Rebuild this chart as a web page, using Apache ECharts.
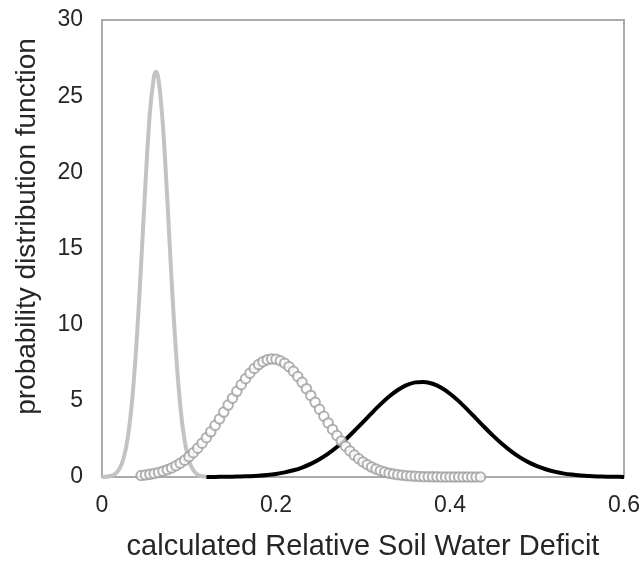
<!DOCTYPE html>
<html>
<head>
<meta charset="utf-8">
<script src="https://cdn.jsdelivr.net/npm/echarts@6/dist/echarts.min.js"></script>
<style>
  html, body { margin: 0; padding: 0; background: #fff; }
  #chart { width: 640px; height: 562px; }
</style>
</head>
<body>
<div id="chart"></div>
<script>
// Narrow distribution (light grey line)
var narrowX = [0.000, 0.005, 0.010, 0.015, 0.020, 0.025, 0.030, 0.035, 0.040, 0.045, 0.050, 0.055, 0.060, 0.062, 0.065, 0.070, 0.075, 0.080, 0.085, 0.090, 0.095, 0.100, 0.105, 0.110, 0.115, 0.120];
var narrowY = [0.005, 0.019, 0.065, 0.196, 0.53, 1.27, 2.73, 5.26, 9.07, 14.0, 19.3, 23.9, 26.4, 26.6, 26.1, 23.1, 18.3, 12.9, 8.21, 4.66, 2.37, 1.07, 0.44, 0.16, 0.05, 0.015];

// Middle distribution (grey open circles)
var middleX = [0.045, 0.050, 0.055, 0.060, 0.065, 0.070, 0.075, 0.080, 0.085, 0.090,
  0.095, 0.100, 0.105, 0.110, 0.115, 0.120, 0.125, 0.130, 0.135, 0.140,
  0.145, 0.150, 0.155, 0.160, 0.165, 0.170, 0.175, 0.180, 0.185, 0.190,
  0.195, 0.200, 0.205, 0.210, 0.215, 0.220, 0.225, 0.230, 0.235, 0.240,
  0.245, 0.250, 0.255, 0.260, 0.265, 0.270, 0.275, 0.280, 0.285, 0.290,
  0.295, 0.300, 0.305, 0.310, 0.315, 0.320, 0.325, 0.330, 0.335, 0.340,
  0.345, 0.350, 0.355, 0.360, 0.365, 0.370, 0.375, 0.380, 0.385, 0.390,
  0.395, 0.400, 0.405, 0.410, 0.415, 0.420, 0.425, 0.430, 0.435];
var middleY = [0.100, 0.133, 0.175, 0.228, 0.294, 0.375, 0.475, 0.595, 0.739, 0.909,
  1.107, 1.336, 1.597, 1.891, 2.217, 2.575, 2.963, 3.377, 3.811, 4.262,
  4.719, 5.176, 5.624, 6.053, 6.452, 6.812, 7.125, 7.381, 7.573, 7.697,
  7.749, 7.726, 7.632, 7.466, 7.235, 6.943, 6.601, 6.216, 5.799, 5.357,
  4.903, 4.444, 3.990, 3.549, 3.126, 2.727, 2.357, 2.017, 1.710, 1.437,
  1.196, 0.985, 0.804, 0.650, 0.520, 0.413, 0.324, 0.252, 0.194, 0.148,
  0.112, 0.084, 0.062, 0.046, 0.033, 0.024, 0.017, 0.012, 0.009, 0.006,
  0.004, 0.003, 0.002, 0.001, 0.001, 0.001, 0.000, 0.000, 0.000];

// Wide distribution (black line)
var wideX = [0.12, 0.13, 0.14, 0.15, 0.16, 0.17, 0.18, 0.19, 0.20, 0.21,
  0.22, 0.23, 0.24, 0.25, 0.26, 0.27, 0.28, 0.29, 0.30, 0.31,
  0.32, 0.33, 0.34, 0.35, 0.36, 0.37, 0.38, 0.39, 0.40, 0.41,
  0.42, 0.43, 0.44, 0.45, 0.46, 0.47, 0.48, 0.49, 0.50, 0.51,
  0.52, 0.53, 0.54, 0.55, 0.56, 0.57, 0.58, 0.59, 0.60];
var wideY = [0.003, 0.006, 0.011, 0.019, 0.032, 0.053, 0.085, 0.133, 0.203, 0.303,
  0.440, 0.623, 0.862, 1.163, 1.531, 1.968, 2.467, 3.017, 3.601, 4.194,
  4.765, 5.283, 5.714, 6.032, 6.212, 6.243, 6.122, 5.857, 5.467, 4.980,
  4.426, 3.839, 3.248, 2.681, 2.160, 1.698, 1.303, 0.975, 0.711, 0.507,
  0.352, 0.239, 0.158, 0.102, 0.064, 0.040, 0.024, 0.014, 0.008];

// Axis tick values
var xTicks = [0, 0.2, 0.4, 0.6];
var yTicks = [0, 5, 10, 15, 20, 25, 30];

function pairs(xs, ys) {
  return xs.map(function (x, i) { return [x, ys[i]]; });
}

var FONT = '"Liberation Sans", Arial, sans-serif';
var chart = echarts.init(document.getElementById('chart'), null, { renderer: 'canvas' });

chart.setOption({
  backgroundColor: '#ffffff',
  animation: false,
  grid: {
    left: 102, right: 16, top: 20, bottom: 85,
    containLabel: false, outerBoundsMode: 'none',
    show: true, borderColor: '#ababab', borderWidth: 2, backgroundColor: 'transparent'
  },
  xAxis: {
    type: 'value',
    min: xTicks[0], max: xTicks[xTicks.length - 1], interval: 0.2,
    name: 'calculated Relative Soil Water Deficit',
    nameLocation: 'middle', nameGap: 55,
    nameTextStyle: { fontFamily: FONT, fontSize: 29, color: '#262626' },
    axisLine: { show: true, lineStyle: { color: '#ababab', width: 2 } },
    axisTick: { show: false },
    splitLine: { show: false },
    axisLabel: { fontFamily: FONT, fontSize: 23, color: '#262626', margin: 17,
      formatter: function (v) { return String(v); } }
  },
  yAxis: {
    type: 'value',
    min: yTicks[0], max: yTicks[yTicks.length - 1], interval: 5,
    name: 'probability distribution function',
    nameLocation: 'middle', nameGap: 61,
    nameTextStyle: { fontFamily: FONT, fontSize: 28, color: '#262626', padding: [0, 0, 0, 44] },
    axisLine: { show: true, lineStyle: { color: '#ababab', width: 2 } },
    axisTick: { show: false },
    splitLine: { show: false },
    axisLabel: { fontFamily: FONT, fontSize: 23, color: '#262626', margin: 19 }
  },
  series: [
    {
      type: 'line', name: 'narrow', data: pairs(narrowX, narrowY),
      smooth: 0.3, showSymbol: false, symbol: 'none',
      lineStyle: { color: '#c3c3c3', width: 4 }, z: 2
    },
    {
      type: 'line', name: 'wide', data: pairs(wideX, wideY),
      smooth: 0.3, showSymbol: false, symbol: 'none',
      lineStyle: { color: '#000000', width: 4 }, z: 3
    },
    {
      type: 'scatter', name: 'middle', data: pairs(middleX, middleY),
      symbol: 'emptyCircle', symbolSize: 9.5,
      itemStyle: { color: '#9e9e9e', borderWidth: 2.2 }, z: 4
    }
  ]
});
</script>
</body>
</html>
